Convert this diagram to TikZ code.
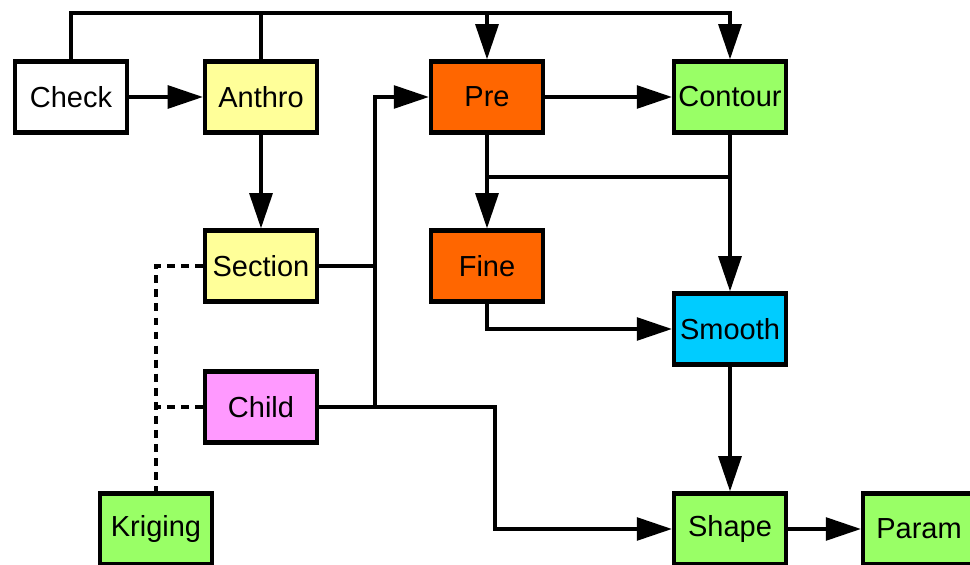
\documentclass[tikz,border=0pt]{standalone}
\usepackage{fontspec}
\setmainfont{Liberation Sans}
\usetikzlibrary{positioning}
\usetikzlibrary{arrows.meta}
\definecolor{cyel}{HTML}{FFFF99}
\definecolor{corg}{HTML}{FF6600}
\definecolor{cgrn}{HTML}{99FF66}
\definecolor{ccyn}{HTML}{00CCFF}
\definecolor{cpnk}{HTML}{FF99FF}
\tikzset{
    mybox/.style = {rectangle, line width=2.4pt, draw=black, minimum width=2.24cm, minimum height=1.42cm, inner sep=0pt, fill=white, font=\fontsize{16.5}{19}\selectfont},
    myboxy/.style = {mybox, fill=cyel},
    myboxo/.style = {mybox, fill=corg},
    myboxg/.style = {mybox, fill=cgrn},
    myboxc/.style = {mybox, fill=ccyn},
    myboxp/.style = {mybox, fill=cpnk},
    edgel/.style = {line width=1.9pt, line join=miter},
    edgen/.style = {edgel, -{Triangle[length=20pt,width=13pt]}},
    edged/.style = {line width=1.9pt, dash pattern=on 4.5pt off 3.5pt}, % kriging link
}

\begin{document}
\begin{tikzpicture}
\useasboundingbox (0,0) rectangle (19.4,-11.3);

\node[mybox] at (1.42, -1.94) (check) {Check};
\node[myboxy] at (5.22, -1.94) (anthro) {Anthro};
\node[myboxo] at (9.74, -1.94) (pre) {Pre};
\node[myboxg] at (14.6, -1.94) (contour) {Contour};
\node[myboxy] at (5.22, -5.32) (section) {Section};
\node[myboxo] at (9.74, -5.32) (fine) {Fine};
\node[myboxc] at (14.6, -6.58) (smooth) {Smooth};
\node[myboxp] at (5.22, -8.14) (child) {Child};
\node[myboxg] at (3.12, -10.58) (kriging) {Kriging};
\node[myboxg] at (14.6, -10.58) (shape) {Shape};
\node[myboxg] at (18.38, -10.58) (param) {Param};
%
\coordinate (top) at (14.6, -0.26);
\coordinate (bus) at (7.5, -8.14);
\coordinate (bend) at (9.9, -8.14);
\coordinate (fork) at (14.6, -3.54);
%
\draw[edgen] (check.north) |- (top) -- (contour.north);
\draw[edgel] (anthro.north) -- (anthro.north |- top);
\draw[edgen] (pre.north |- top) -- (pre.north);
\draw[edgen] (check) -- (anthro);
\draw[edgen] (anthro) -- (section);
\draw[edgen] (pre) -- (contour);
\draw[edgel] (section.east) -- (section.east -| bus);
\draw[edgen] (child.east) -- (bus) |- (pre.west);
\draw[edgen] (bus) -- (bend) |- (shape.west);
\draw[edgel] (pre.south) |- (fork);
\draw[edgen] (pre) -- (fine);
\draw[edgen] (contour) -- (smooth);
\draw[edgen] (fine.south) |- (smooth.west);
\draw[edgen] (smooth) -- (shape);
\draw[edgen] (shape) -- (param);
\draw[edged] (section.west) -| (kriging.north);
\draw[edged] (child.west) -- (child.west -| kriging.north);

\end{tikzpicture}
\end{document}
